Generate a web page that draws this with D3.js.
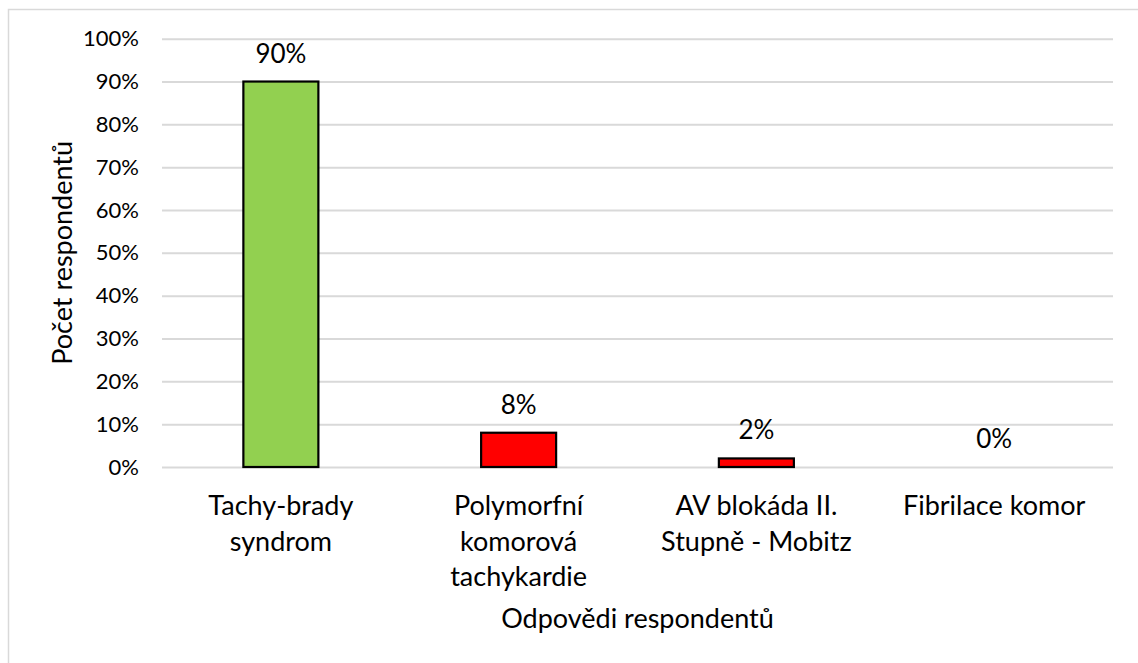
<!DOCTYPE html>
<html><head><meta charset="utf-8">
<script src="https://cdn.jsdelivr.net/npm/d3@7"></script>
<style>body{margin:0;background:#fff}svg{display:block}text{font-family:Lato,"Open Sans",sans-serif;fill:#000}</style>
</head><body>
<svg id="c" width="1138" height="663"></svg>
<script>
const categories = [["Tachy-brady","syndrom"],["Polymorfní","komorová","tachykardie"],["AV blokáda II.","Stupně - Mobitz"],["Fibrilace komor"]];
const values = [0.90, 0.08, 0.02, 0.00];
const colors = ["#92D050","#FF0000","#FF0000","#FF0000"];
const yTicks = [0,0.1,0.2,0.3,0.4,0.5,0.6,0.7,0.8,0.9,1.0];
const yTitle = "Počet respondentů";
const xTitle = "Odpovědi respondentů";

const svg = d3.select("#c");
const m = {left:162, right:1113, top:38.7, bottom:467};
svg.append("rect").attr("x",8.5).attr("y",9.5).attr("width",1140).attr("height",670)
  .attr("fill","#fff").attr("stroke","#d9d9d9").attr("stroke-width",1.5);

const x = d3.scaleBand().domain(d3.range(categories.length)).range([m.left,m.right]).paddingInner(0.6845).paddingOuter(0.34225);
const y = d3.scaleLinear().domain([0,1]).range([m.bottom,m.top]);

const gy = svg.append("g").attr("transform",`translate(${m.left},0)`)
  .call(d3.axisLeft(y).tickValues(yTicks).tickFormat(d3.format(".0%")).tickSize(-(m.right-m.left)).tickPadding(23));
gy.select(".domain").remove();
gy.selectAll(".tick line").attr("stroke","#d9d9d9").attr("stroke-width",2);
gy.selectAll(".tick text").attr("font-size",22).attr("font-family","Lato").attr("fill","#000");

svg.selectAll("rect.bar").data(values).join("rect").attr("class","bar")
  .attr("x",(d,i)=>x(i)).attr("width",x.bandwidth())
  .attr("y",d=>y(d)).attr("height",d=>y(0)-y(d))
  .attr("fill",(d,i)=>colors[i]).attr("stroke",d=>d>0?"#000":"none").attr("stroke-width",2.2);

svg.selectAll("text.lbl").data(values).join("text").attr("class","lbl")
  .attr("x",(d,i)=>x(i)+x.bandwidth()/2).attr("y",d=>y(d)-19)
  .attr("text-anchor","middle").attr("font-size",26).text(d=>d3.format(".0%")(d));

const gx = svg.append("g");
categories.forEach((lines,i)=>{
  const cx = x(i)+x.bandwidth()/2;
  const t = gx.append("text").attr("x",cx).attr("y",515).attr("text-anchor","middle").attr("font-size",27);
  lines.forEach((l,j)=>t.append("tspan").attr("x",cx).attr("dy",j?35.5:0).text(l));
});

svg.append("text").attr("x",(m.left+m.right)/2).attr("y",628).attr("text-anchor","middle").attr("font-size",27).text(xTitle);
svg.append("text").attr("transform",`translate(72,${(m.top+m.bottom)/2}) rotate(-90)`).attr("text-anchor","middle").attr("font-size",27).text(yTitle);
</script>
</body></html>
